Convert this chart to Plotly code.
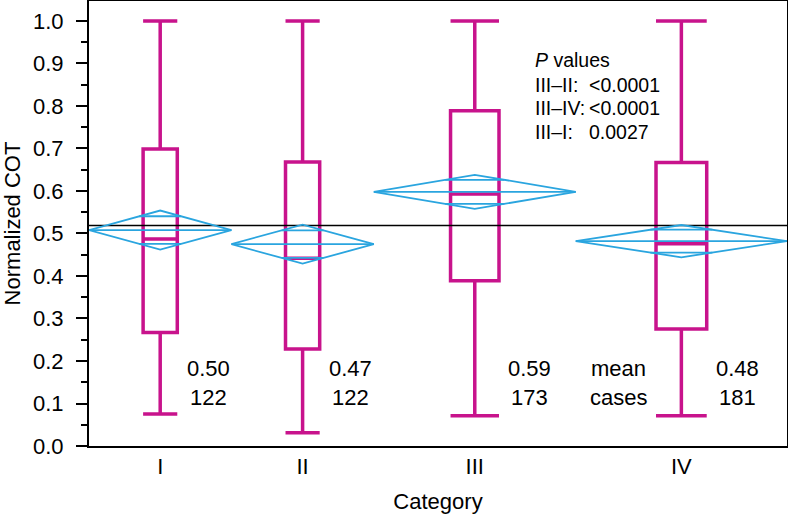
import numpy as np
import plotly.graph_objects as go

# ---- data ----
categories = ["I", "II", "III", "IV"]
n_cases = [122, 122, 173, 181]
q1 = [0.267, 0.228, 0.389, 0.275]
medians = [0.487, 0.442, 0.593, 0.476]
q3 = [0.699, 0.668, 0.789, 0.667]
lower_whisker = [0.075, 0.031, 0.071, 0.071]
upper_whisker = [1.0, 1.0, 1.0, 1.0]
means = [0.508, 0.475, 0.598, 0.482]
ci_half = [0.046, 0.046, 0.040, 0.038]
grand_mean = 0.519
mean_labels = ["0.50", "0.47", "0.59", "0.48"]
case_labels = ["122", "122", "173", "181"]
p_pairs = ["III–II:", "III–IV:", "III–I:"]
p_values = ["<0.0001", "<0.0001", "0.0027"]
y_ticks = [round(0.1 * i, 1) for i in range(11)]

# ---- styles ----
MAGENTA = "#C8138C"
BLUE = "#2AA5DF"
FONT = "Liberation Sans, Arial, Helvetica, sans-serif"
BOX_FRAC = 0.24

n_arr = np.array(n_cases, dtype=float)
edges = np.concatenate([[0], np.cumsum(n_arr)])
centers = (edges[:-1] + edges[1:]) / 2
total = edges[-1]

fig = go.Figure()

# grand mean line
fig.add_trace(go.Scatter(x=[0, total], y=[grand_mean, grand_mean], mode="lines",
                         line=dict(color="black", width=1.5), hoverinfo="skip",
                         showlegend=False))

# means diamonds
for i in range(len(categories)):
    x0, x1, xc = edges[i], edges[i + 1], centers[i]
    m, c = means[i], ci_half[i]
    hw = (x1 - x0) / 2
    ov = c / np.sqrt(2)
    chord = hw * (1 - ov / c)
    xs = [x0, xc, x1, xc, x0, None, x0, x1, None,
          xc - chord, xc + chord, None, xc - chord, xc + chord]
    ys = [m, m + c, m, m - c, m, None, m, m, None,
          m + ov, m + ov, None, m - ov, m - ov]
    fig.add_trace(go.Scatter(x=xs, y=ys, mode="lines",
                             line=dict(color=BLUE, width=1.8),
                             hoverinfo="skip", showlegend=False))

# boxes
for i in range(len(categories)):
    fig.add_trace(go.Box(
        x=[centers[i]], q1=[q1[i]], median=[medians[i]], q3=[q3[i]],
        lowerfence=[lower_whisker[i]], upperfence=[upper_whisker[i]],
        width=BOX_FRAC * n_cases[i], whiskerwidth=1, boxpoints=False,
        fillcolor="rgba(0,0,0,0)", line=dict(color=MAGENTA, width=3.5),
        showlegend=False, hoverinfo="skip"))

annotations = []
for i in range(len(categories)):
    tx = centers[i] + BOX_FRAC * n_cases[i] / 2 + 26.5
    annotations.append(dict(x=tx, y=0.183, xref="x", yref="y", text=mean_labels[i],
                            showarrow=False, xanchor="center", yanchor="middle",
                            font=dict(size=22, color="black", family=FONT)))
    annotations.append(dict(x=tx, y=0.114, xref="x", yref="y", text=case_labels[i],
                            showarrow=False, xanchor="center", yanchor="middle",
                            font=dict(size=22, color="black", family=FONT)))
lx = centers[3] - BOX_FRAC * n_cases[3] / 2 - 32
annotations.append(dict(x=lx, y=0.183, xref="x", yref="y", text="mean", showarrow=False,
                        xanchor="center", yanchor="middle",
                        font=dict(size=22, color="black", family=FONT)))
annotations.append(dict(x=lx, y=0.114, xref="x", yref="y", text="cases", showarrow=False,
                        xanchor="center", yanchor="middle",
                        font=dict(size=22, color="black", family=FONT)))

p_x_label = 380.4
p_x_value = 427.0
p_y = [0.852, 0.797, 0.741]
annotations.append(dict(x=p_x_label, y=0.909, xref="x", yref="y", text="<i>P</i> values",
                        showarrow=False, xanchor="left", yanchor="middle",
                        font=dict(size=19.5, color="black", family=FONT)))
for lab, val, yy in zip(p_pairs, p_values, p_y):
    annotations.append(dict(x=p_x_label, y=yy - 0.002, xref="x", yref="y", text=lab,
                            showarrow=False, xanchor="left", yanchor="middle",
                            font=dict(size=19.5, color="black", family=FONT)))
    annotations.append(dict(x=p_x_value, y=yy - 0.002, xref="x", yref="y", text=val,
                            showarrow=False, xanchor="left", yanchor="middle",
                            font=dict(size=19.5, color="black", family=FONT)))

fig.update_layout(
    width=788, height=514,
    margin=dict(l=89, r=1, t=1, b=68, autoexpand=False),
    paper_bgcolor="white", plot_bgcolor="white",
    boxmode="overlay",
    font=dict(family=FONT, size=22, color="black"),
    annotations=annotations,
    xaxis=dict(range=[0, total], tickvals=list(centers), ticktext=categories,
               ticks="", showgrid=False, zeroline=False, automargin=False,
               showline=True, linecolor="black", linewidth=2, mirror=True,
               ticklabelstandoff=0,
               tickfont=dict(size=22, family=FONT),
               title=dict(text="Category", font=dict(size=22, family=FONT))),
    yaxis=dict(range=[0, 1.047], tickvals=y_ticks, tickformat=".1f",
               ticks="outside", ticklen=11, tickwidth=2, tickcolor="black",
               minor=dict(dtick=0.05, tick0=0, ticks="outside", ticklen=6,
                          tickwidth=2, tickcolor="black", showgrid=False),
               showgrid=False, zeroline=False, automargin=False,
               showline=True, linecolor="black", linewidth=2, mirror=True,
               ticklabelstandoff=8,
               tickfont=dict(size=22, family=FONT),
               title=dict(text="Normalized COT", font=dict(size=22, family=FONT))),
)

fig.write_html("out.html", config={"displayModeBar": False},
               post_script="document.body.style.margin='0';")
